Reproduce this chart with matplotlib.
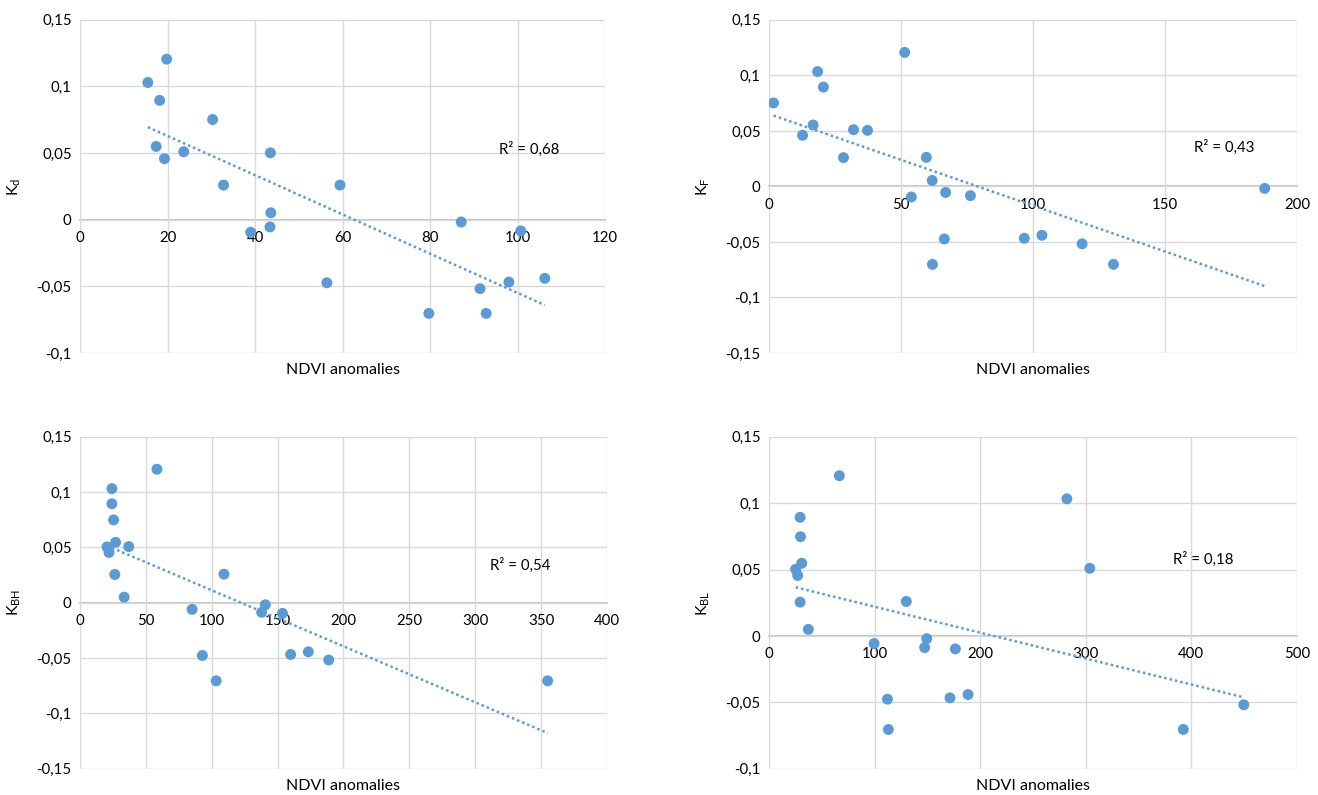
import numpy as np
import matplotlib
matplotlib.use("Agg")
import matplotlib.pyplot as plt
from matplotlib.ticker import FuncFormatter

plt.rcParams['font.family'] = ['Lato', 'DejaVu Sans']
plt.rcParams['font.size'] = 10.5

# K values (same stations in every panel)
kd_x = [15.5, 19.8, 18.2, 30.3, 17.4, 19.3, 23.7, 32.8, 43.5, 43.6, 43.4,
        39.0, 59.4, 56.4, 79.7, 87.1, 91.4, 92.8, 98.0, 100.7, 106.2]
kd_y = [0.103, 0.1205, 0.0896, 0.0752, 0.055, 0.0458, 0.051, 0.026, 0.0502, 0.0052, -0.0054,
        -0.0094, 0.026, -0.0473, -0.0703, -0.0017, -0.0517, -0.0703, -0.0468, -0.0084, -0.044]

kf_x = [1.7, 18.4, 20.6, 51.4, 16.7, 12.7, 32.0, 37.3, 28.2, 59.6, 61.8,
        53.9, 66.9, 76.3, 66.4, 61.9, 96.7, 103.4, 118.6, 130.5, 187.8]
kf_y = [0.0752, 0.1034, 0.0895, 0.1207, 0.0553, 0.0461, 0.0511, 0.0505, 0.0259, 0.0262, 0.0054,
        -0.0095, -0.0054, -0.0083, -0.0473, -0.0702, -0.0467, -0.044, -0.0517, -0.0702, -0.0018]

kbh_x = [58.4, 24.2, 24.2, 25.5, 27.0, 20.5, 22.0, 37.0, 26.4, 33.5, 109.3,
         85.1, 140.7, 137.9, 153.7, 92.9, 103.4, 159.9, 173.3, 188.8, 355.0]
kbh_y = [0.1207, 0.1032, 0.0895, 0.0749, 0.0547, 0.0505, 0.0455, 0.0508, 0.0256, 0.0051, 0.0259,
         -0.0059, -0.0018, -0.0086, -0.0095, -0.0476, -0.0705, -0.0467, -0.0443, -0.0517, -0.0705]

kbl_x = [66.6, 282.1, 29.4, 29.8, 31.0, 25.2, 27.1, 303.8, 29.4, 130.0, 37.2,
         99.5, 149.4, 147.4, 176.5, 112.2, 113.0, 171.4, 188.5, 449.7, 392.4]
kbl_y = [0.1207, 0.1033, 0.0894, 0.0748, 0.0548, 0.0503, 0.0456, 0.051, 0.0255, 0.026, 0.005,
         -0.0057, -0.002, -0.0087, -0.0097, -0.0476, -0.0704, -0.0466, -0.0441, -0.0518, -0.0704]

r2_labels = ['R² = 0,68', 'R² = 0,43', 'R² = 0,54', 'R² = 0,18']
y_labels = [r'$\mathregular{K_d}$', r'$\mathregular{K_F}$', r'$\mathregular{K_{BH}}$', r'$\mathregular{K_{BL}}$']

blue = '#5B9BD5'
grid_c = '#D9D9D9'


def comma(v, pos):
    s = '%g' % round(v, 4)
    if s == '-0':
        s = '0'
    return s.replace('.', ',')


fig = plt.figure(figsize=(13.18, 7.95), dpi=100)

panels = [
    # x, y, xlim, xticks, ylim, rect, r2 position
    (kd_x, kd_y, (0, 120), [0, 20, 40, 60, 80, 100, 120], (-0.1, 0.15),
     [0.0607, 0.556, 0.3985, 0.419], (95.8, 0.053)),
    (kf_x, kf_y, (0, 200), [0, 50, 100, 150, 200], (-0.15, 0.15),
     [0.5835, 0.556, 0.4005, 0.419], (161, 0.035)),
    (kbh_x, kbh_y, (0, 400), [0, 50, 100, 150, 200, 250, 300, 350, 400], (-0.15, 0.15),
     [0.0607, 0.033, 0.3998, 0.4175], (311, 0.0336)),
    (kbl_x, kbl_y, (0, 500), [0, 100, 200, 300, 400, 500], (-0.1, 0.15),
     [0.5835, 0.033, 0.4005, 0.4175], (383, 0.0575)),
]

for i, (xs, ys, xl, xt, yl, rect, r2pos) in enumerate(panels):
    ax = fig.add_axes(rect)
    xs = np.array(xs)
    ys = np.array(ys)

    yt = np.round(np.arange(yl[0], yl[1] + 0.001, 0.05), 2)
    ax.set_xlim(*xl)
    ax.set_ylim(*yl)
    ax.set_xticks(xt)
    ax.set_yticks(yt)
    ax.yaxis.set_major_formatter(FuncFormatter(comma))

    ax.grid(True, color=grid_c, linewidth=1.0, zorder=0)
    for s in ['top', 'right', 'left']:
        ax.spines[s].set_visible(False)
    ax.spines['bottom'].set_position(('data', 0))
    ax.spines['bottom'].set_color('#BFBFBF')
    ax.spines['bottom'].set_linewidth(1.3)
    ax.spines['bottom'].set_zorder(1)
    ax.tick_params(length=0, pad=6, labelsize=10.8, colors='#000000')
    ax.tick_params(axis='x', pad=8)

    # trend line (least squares, like Excel)
    k, b = np.polyfit(xs, ys, 1)
    tx = np.array([xs.min(), xs.max()])
    ax.plot(tx, k * tx + b, color=blue, linewidth=1.8, linestyle=(0, (1, 1.2)), zorder=2)

    ax.scatter(xs, ys, s=62, color=blue, edgecolors='none', zorder=3)

    ax.text(r2pos[0], r2pos[1], r2_labels[i], ha='left', va='center', fontsize=10.8)

    ax.set_ylabel(y_labels[i], fontsize=11.5, labelpad=10)
    # x label sits under the plot area, not at the zero axis
    ax.text(0.5, -0.03, 'NDVI anomalies', transform=ax.transAxes,
            ha='center', va='top', fontsize=11.5)

fig.savefig('out.png', dpi=100)
